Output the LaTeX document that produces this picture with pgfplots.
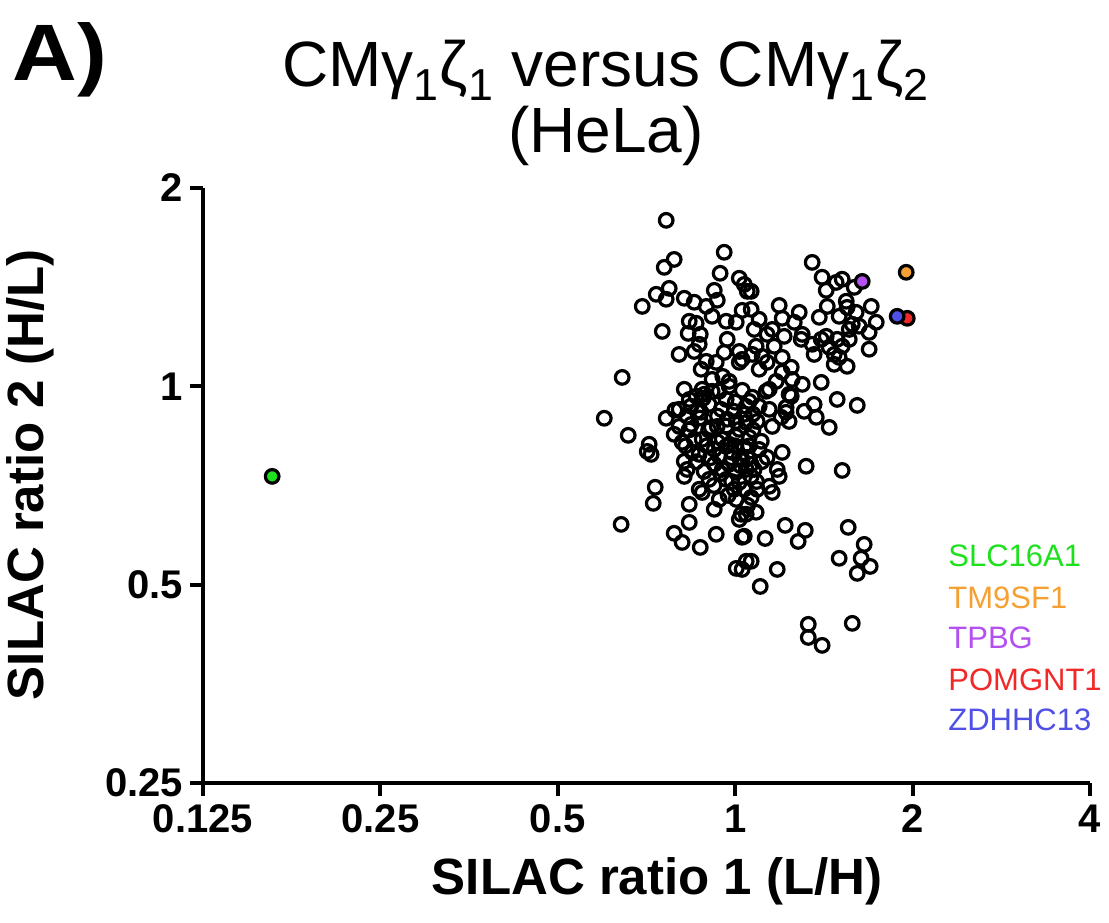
\documentclass[border=0pt]{standalone}
\usepackage{fontspec}
\setmainfont{Liberation Sans}
\usepackage{pgfplots}
\usepackage{pgfplotstable}
\pgfplotsset{compat=1.18}
\definecolor{cgreen}{RGB}{30,225,30}
\definecolor{corange}{RGB}{245,160,50}
\definecolor{cpurple}{RGB}{180,80,240}
\definecolor{cred}{RGB}{240,40,40}
\definecolor{cblue}{RGB}{80,80,230}
% log2(ratio 1)  log2(ratio 2)
\pgfplotstableread{
lx ly
-0.389 0.837
-0.344 0.640
-0.400 0.600
-0.062 0.676
-0.085 0.570
0.023 0.545
0.051 0.514
0.068 0.479
-0.445 0.464
-0.372 0.494
-0.389 0.439
-0.524 0.403
-0.287 0.444
-0.231 0.424
-0.118 0.484
-0.101 0.434
-0.163 0.403
-0.130 0.353
-0.051 0.328
0.006 0.323
0.039 0.383
-0.411 0.277
-0.259 0.328
-0.220 0.318
-0.265 0.267
-0.197 0.262
-0.316 0.161
-0.231 0.176
-0.163 0.126
-0.107 0.121
-0.062 0.171
0.023 0.176
0.023 0.121
-0.192 0.086
-0.130 0.035
-0.034 0.025
-0.637 0.045
-0.287 -0.015
-0.186 -0.015
-0.090 -0.025
0.096 -0.055
0.135 0.086
0.434 0.625
0.490 0.550
0.513 0.484
0.569 0.524
0.603 0.540
0.671 0.499
0.248 0.408
0.265 0.343
0.361 0.373
0.333 0.323
0.474 0.348
0.519 0.403
0.586 0.353
0.626 0.429
0.631 0.398
0.682 0.373
0.767 0.403
0.795 0.323
0.755 0.272
0.755 0.187
0.660 0.313
0.643 0.287
0.699 0.303
0.643 0.237
0.090 0.479
0.090 0.388
0.107 0.287
0.209 0.287
0.276 0.252
0.378 0.262
0.372 0.237
0.434 0.212
0.485 0.237
0.513 0.252
0.530 0.197
0.575 0.237
0.603 0.202
0.558 0.161
0.586 0.146
0.631 0.101
0.220 0.202
0.118 0.202
0.096 0.161
0.152 0.151
0.265 0.146
0.445 0.161
0.039 0.136
0.180 0.121
0.265 0.071
0.316 0.096
0.231 0.025
0.321 0.035
0.378 0.010
0.485 0.020
0.192 -0.015
0.304 -0.040
0.575 -0.066
0.558 0.111
0.175 -0.025
0.445 -0.091
0.389 -0.126
0.457 -0.156
0.530 -0.207
0.688 -0.096
0.079 -0.076
0.135 -0.101
0.287 -0.131
0.304 -0.177
0.259 -0.156
0.209 -0.202
0.124 -0.177
0.062 -0.182
0.147 -0.277
0.265 -0.333
0.400 -0.403
0.603 -0.424
0.068 -0.358
0.180 -0.358
0.237 -0.419
0.248 -0.454
0.192 -0.504
0.209 -0.535
0.090 -0.454
0.124 -0.519
0.090 -0.560
0.118 -0.635
0.062 -0.645
0.023 -0.671
0.282 -0.701
0.395 -0.726
0.355 -0.782
0.169 -0.767
0.051 -0.756
0.637 -0.711
0.727 -0.797
0.586 -0.867
0.710 -0.867
0.761 -0.908
0.688 -0.943
0.237 -0.923
0.090 -0.882
0.039 -0.923
0.141 -1.009
0.412 -1.200
0.412 -1.266
0.490 -1.306
0.660 -1.195
0.316 -0.050
0.287 -0.106
0.192 -0.116
-0.738 -0.161
-0.603 -0.247
-0.389 -0.161
-0.485 -0.292
-0.496 -0.328
-0.474 -0.343
-0.451 -0.509
-0.462 -0.590
-0.643 -0.696
-0.316 -0.202
-0.344 -0.242
-0.271 -0.151
-0.220 -0.050
-0.130 -0.025
-0.192 -0.131
-0.248 -0.192
-0.186 -0.267
-0.299 -0.282
-0.242 -0.333
-0.203 -0.343
-0.271 -0.419
-0.287 -0.454
-0.175 -0.429
-0.203 -0.519
-0.186 -0.535
-0.259 -0.595
-0.259 -0.686
-0.344 -0.741
-0.299 -0.787
-0.197 -0.812
-0.118 -0.620
-0.107 -0.746
0.039 -0.761
0.006 -0.918
0.062 -0.882
-0.101 -0.202
-0.051 -0.066
-0.034 0.000
0.062 -0.101
0.006 -0.177
-0.073 -0.267
-0.051 -0.303
0.006 -0.252
-0.090 -0.353
-0.017 -0.333
0.039 -0.368
-0.073 -0.419
0.006 -0.434
0.062 -0.419
-0.051 -0.469
0.023 -0.484
0.006 -0.570
0.034 -0.645
-0.147 -0.091
-0.079 -0.116
-0.006 -0.126
0.051 -0.141
-0.045 -0.166
-0.135 -0.207
0.023 -0.217
0.079 -0.257
-0.034 -0.292
0.051 -0.308
-0.118 -0.318
0.023 -0.358
-0.034 -0.393
0.090 -0.393
-0.118 -0.393
-0.006 -0.519
-0.090 -0.570
-0.147 -0.469
-0.231 -0.267
-0.287 -0.378
0.135 -0.318
0.107 -0.419
-0.214 -0.126
-0.316 -0.116
-0.259 -0.066
-0.175 -0.040
-0.203 0.212
-0.045 0.237
0.135 0.338
0.180 0.262
-0.250 -0.100
-0.200 -0.160
-0.150 -0.220
-0.100 -0.280
-0.050 -0.200
0.000 -0.300
0.030 -0.400
-0.020 -0.360
-0.080 -0.440
-0.120 -0.500
-0.160 -0.300
-0.220 -0.380
-0.260 -0.220
0.100 -0.220
0.080 -0.300
0.120 -0.480
0.050 -0.520
-0.040 -0.550
-0.100 -0.150
0.000 -0.080
-0.180 -0.060
-0.280 -0.300
-0.340 -0.120
0.040 -0.020
-0.070 0.050
0.100 -0.140
-0.140 -0.360
0.150 -0.380
-0.020 -0.480
0.070 -0.600
}\blackpts
\begin{document}
\begin{tikzpicture}
\path[use as bounding box] (-101.5pt,-69.5pt) rectangle (453pt,391.5pt);
\begin{axis}[
  at={(0,0)}, anchor=south west,
  scale only axis, width=443.5pt, height=297.5pt,
  xmin=-3, xmax=2, ymin=-2, ymax=1,
  axis x line*=bottom, axis y line*=left,
  axis line style={-, line width=2pt, black},
  xtick={-3,-2,-1,0,1,2}, xticklabels={0.125,0.25,0.5,1,2,4},
  ytick={-2,-1,0,1}, yticklabels={0.25,0.5,1,2},
  tick style={line width=2pt, black},
  major tick length=6.5pt, tick align=outside,
  ticklabel style={font=\fontsize{20}{20}\selectfont\bfseries},
  xticklabel style={yshift=-1pt},
  xlabel={SILAC ratio 1 (L/H)},
  ylabel={SILAC ratio 2 (H/L)},
  label style={font=\fontsize{25.5}{25.5}\selectfont\bfseries},
  xlabel style={at={(axis description cs:0.512,-0.165)}, anchor=center},
  ylabel style={at={(axis description cs:-0.195,0.518)}, anchor=center},
  clip=false,
]
\addplot[only marks, mark=o, mark size=3.4pt, mark options={line width=1.6pt, black}] table[x=lx,y=ly] {\blackpts};
\addplot[only marks, mark=*, mark size=3.4pt, mark options={line width=1.6pt, draw=black, fill=cgreen}] coordinates {(-2.610,-0.454)};
\addplot[only marks, mark=*, mark size=3.4pt, mark options={line width=1.6pt, draw=black, fill=corange}] coordinates {(0.964,0.575)};
\addplot[only marks, mark=*, mark size=3.4pt, mark options={line width=1.6pt, draw=black, fill=cpurple}] coordinates {(0.716,0.529)};
\addplot[only marks, mark=*, mark size=3.4pt, mark options={line width=1.6pt, draw=black, fill=cred}] coordinates {(0.970,0.343)};
\addplot[only marks, mark=*, mark size=3.4pt, mark options={line width=1.6pt, draw=black, fill=cblue}] coordinates {(0.913,0.353)};
\end{axis}
% panel label and title
\node[anchor=north west, inner sep=0pt, font=\fontsize{40}{40}\selectfont\bfseries] at (-95.5pt,380.5pt) {\scalebox{1.12}[1]{A)}};
\node[align=center, font=\fontsize{32}{33}\selectfont] at (201.5pt,340pt) {CMγ\textsubscript{1}ζ\textsubscript{1} versus CMγ\textsubscript{1}ζ\textsubscript{2}\\(HeLa)};
% gene labels
\begin{scope}[every node/.style={anchor=west, font=\fontsize{15.5}{15.5}\selectfont, inner sep=0pt}]
\node[text=cgreen] at (372.5pt,113.5pt) {SLC16A1};
\node[text=corange] at (372.5pt,92.5pt) {TM9SF1};
\node[text=cpurple] at (372.5pt,72.5pt) {TPBG};
\node[text=cred] at (372.5pt,51.5pt) {POMGNT1};
\node[text=cblue] at (372.5pt,31.5pt) {ZDHHC13};
\end{scope}
\end{tikzpicture}
\end{document}
